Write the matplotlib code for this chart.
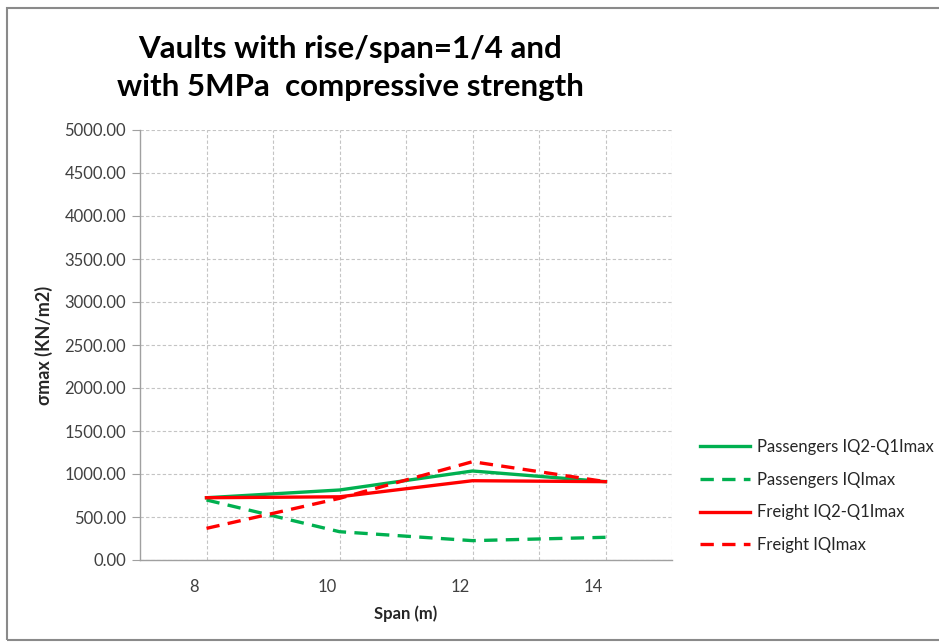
import matplotlib.pyplot as plt
import matplotlib.transforms as mtransforms
from matplotlib.patches import Rectangle

span = [8, 10, 12, 14]
passengers_iq2 = [724, 814, 1035, 911]
passengers_iq = [698, 329, 225, 264]
freight_iq2 = [724, 735, 922, 911]
freight_iq = [368, 717, 1143, 911]

plt.rcParams['font.family'] = ['Lato', 'DejaVu Sans']

green = "#00B050"
red = "#FF0000"
dash = (4, 2.5)

fig = plt.figure(figsize=(9.39, 6.44), dpi=100)
ax = fig.add_axes([140/939, 84/644, 532/939, 430/644])

ax.plot(span, passengers_iq2, color=green, lw=2.4, label='Passengers IQ2-Q1Imax')
ax.plot(span, passengers_iq, color=green, lw=2.4, dashes=dash, label='Passengers IQImax')
ax.plot(span, freight_iq2, color=red, lw=2.4, label='Freight IQ2-Q1Imax')
ax.plot(span, freight_iq, color=red, lw=2.4, dashes=dash, label='Freight IQImax')

ax.set_xlim(7, 15)
ax.set_ylim(0, 5000)
ax.set_xticks(span)
ax.set_xticks([9, 11, 13, 15], minor=True)
ax.set_yticks(range(0, 5001, 500))
ax.set_yticklabels([f"{v:.2f}" for v in range(0, 5001, 500)])

ax.grid(True, which='both', axis='x', color='#c4c4c4', linestyle=(0, (3, 2)), lw=0.8)
ax.grid(True, axis='y', color='#c4c4c4', linestyle=(0, (3, 2)), lw=0.8)
ax.set_axisbelow(True)

for s in ['top', 'right']:
    ax.spines[s].set_visible(False)
for s in ['left', 'bottom']:
    ax.spines[s].set_color('#a0a0a0')
    ax.spines[s].set_linewidth(1.0)

ax.tick_params(axis='x', which='both', length=0, pad=14, labelsize=12, labelcolor='#404040')
ax.tick_params(axis='y', length=6, color='#a0a0a0', pad=4, labelsize=12, labelcolor='#404040')

# shift x labels slightly left like the original
offset = mtransforms.ScaledTranslation(-12/100, 0, fig.dpi_scale_trans)
for lab in ax.get_xticklabels():
    lab.set_transform(lab.get_transform() + offset)

ax.set_xlabel("Span (m)", fontsize=12, fontweight='bold', color='#262626', labelpad=7)
ax.set_ylabel("σmax (KN/m2)", fontsize=13, fontweight='bold', color='#262626', labelpad=8)

fig.text(350/939, 1 - 68/644, "Vaults with rise/span=1/4 and\nwith 5MPa  compressive strength",
         ha='center', va='center', fontsize=22.5, fontweight='bold', linespacing=1.4)

fig.legend(loc='upper left', bbox_to_anchor=(700/939, 1 - 439/644), frameon=False,
           fontsize=12, handlelength=3.0, handletextpad=0.4, labelspacing=1.0,
           borderpad=0, borderaxespad=0, labelcolor='#262626')

fig.add_artist(Rectangle((7/939, 4/644), 940/939, 632/644, transform=fig.transFigure,
                         fill=False, edgecolor='#8a8a8a', lw=1.5))

plt.savefig('out.png', dpi=100)
